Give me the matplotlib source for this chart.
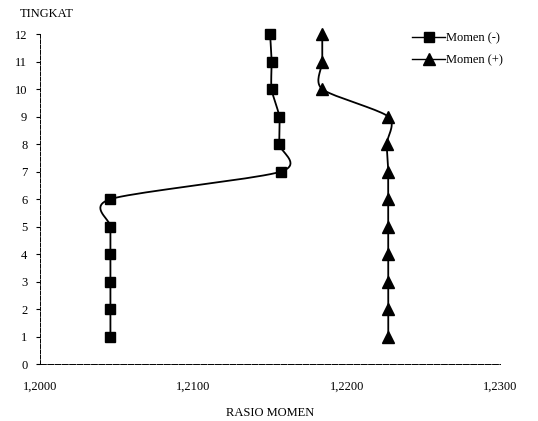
import numpy as np
import matplotlib.pyplot as plt

plt.rcParams['font.family'] = ['Liberation Serif', 'DejaVu Serif']

# Rasio momen per tingkat
tingkat = [1, 2, 3, 4, 5, 6, 7, 8, 9, 10, 11, 12]
momen_neg = [1.2046, 1.2046, 1.2046, 1.2046, 1.2046, 1.2046,
             1.2157, 1.2156, 1.2156, 1.2151, 1.2151, 1.2150]
momen_pos = [1.2227, 1.2227, 1.2227, 1.2227, 1.2227, 1.2227,
             1.2227, 1.2226, 1.2227, 1.2184, 1.2184, 1.2184]

xticks = [1.2000, 1.2100, 1.2200, 1.2300]
xticklabels = ['1,2000', '1,2100', '1,2200', '1,2300']


def smooth(x, y, n=20, k=0.8):
    # Catmull-Rom spline lewat semua titik (mirip garis "smooth" Excel)
    x = np.asarray(x, float)
    y = np.asarray(y, float)
    # skala x supaya sebanding dengan y
    xs = (x - 1.2) * 1000.0
    px = np.concatenate([[xs[0]], xs, [xs[-1]]])
    py = np.concatenate([[y[0]], y, [y[-1]]])
    outx, outy = [], []
    t = np.linspace(0, 1, n)
    for i in range(1, len(px) - 2):
        p0, p1, p2, p3 = (np.array([px[j], py[j]]) for j in (i - 1, i, i + 1, i + 2))
        m1 = k * (p2 - p0) / 2.0
        m2 = k * (p3 - p1) / 2.0
        for tt in t:
            h00 = 2 * tt**3 - 3 * tt**2 + 1
            h10 = tt**3 - 2 * tt**2 + tt
            h01 = -2 * tt**3 + 3 * tt**2
            h11 = tt**3 - tt**2
            pt = h00 * p1 + h10 * m1 + h01 * p2 + h11 * m2
            outx.append(pt[0])
            outy.append(pt[1])
    return np.array(outx) / 1000.0 + 1.2, np.array(outy)


fig = plt.figure(figsize=(5.38, 4.21), dpi=100)
ax = fig.add_axes([0.074, 0.135, 0.856, 0.784])

sx, sy = smooth(momen_neg, tingkat)
ax.plot(sx, sy, color='black', lw=1.3, clip_on=False)
ax.plot(momen_neg, tingkat, linestyle='none', marker='s', markersize=7,
        color='black', clip_on=False)
sx, sy = smooth(momen_pos, tingkat)
ax.plot(sx, sy, color='black', lw=1.3, clip_on=False)
ax.plot(momen_pos, tingkat, linestyle='none', marker='^', markersize=8,
        color='black', clip_on=False)

# handle legenda
l1, = ax.plot([], [], color='black', lw=1.0, marker='s', markersize=7)
l2, = ax.plot([], [], color='black', lw=1.0, marker='^', markersize=8)
ax.legend((l1, l2), ('Momen (-)', 'Momen (+)'), loc='upper right',
          bbox_to_anchor=(1.03, 1.04), frameon=False, fontsize=9,
          handlelength=2.6, handletextpad=0.1, labelspacing=0.8)

ax.set_xlim(1.2000, 1.2300)
ax.set_ylim(0, 12)
ax.set_xticks(xticks)
ax.set_xticklabels(xticklabels)
ax.set_yticks(range(0, 13))
ax.tick_params(axis='x', length=0, labelsize=9, pad=12)
ax.tick_params(axis='y', length=3, direction='out', labelsize=9, pad=6)

for s in ('top', 'right'):
    ax.spines[s].set_visible(False)
ax.spines['left'].set_linestyle((0, (4, 1.5)))
ax.spines['left'].set_linewidth(0.7)
ax.spines['bottom'].set_linestyle((0, (6, 1.5)))
ax.spines['bottom'].set_linewidth(0.7)

fig.text(0.037, 0.98, 'TINGKAT', fontsize=9, va='top', ha='left')
ax.set_xlabel('RASIO MOMEN', fontsize=9, labelpad=10)

plt.savefig('out.png', dpi=100)
